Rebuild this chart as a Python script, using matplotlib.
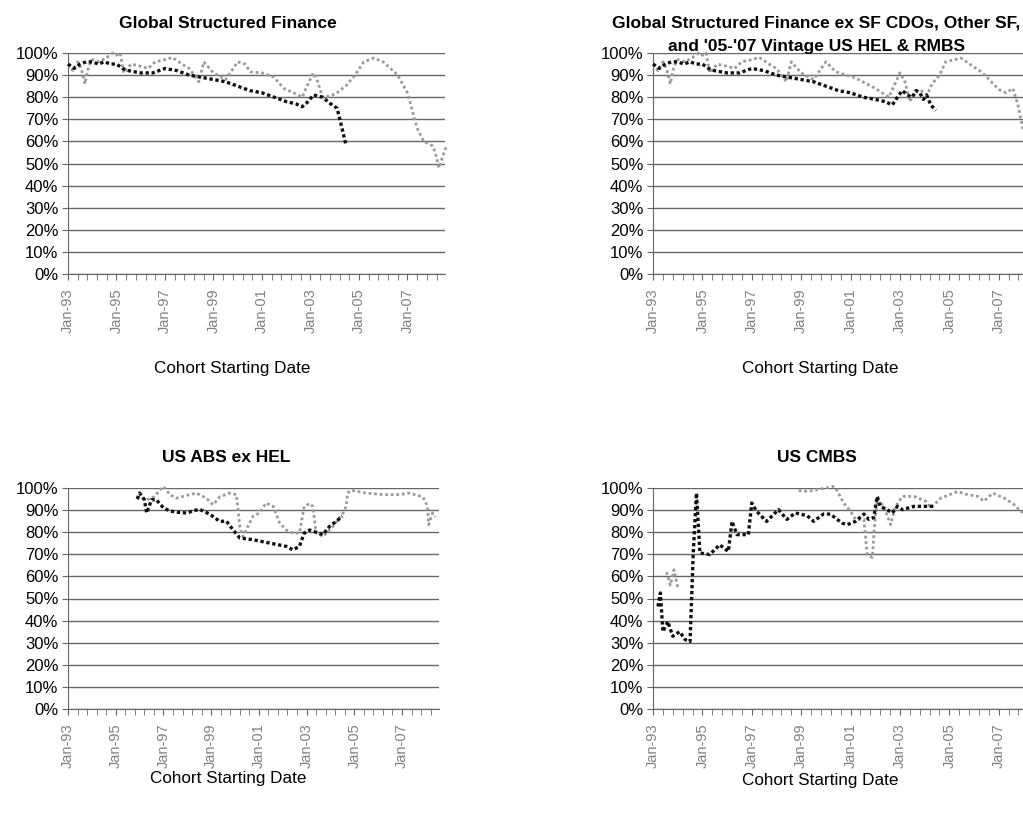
import numpy as np
import matplotlib
matplotlib.use("Agg")
import matplotlib.pyplot as plt
from matplotlib.ticker import FixedLocator, PercentFormatter

plt.rcParams['font.family'] = ['Liberation Sans', 'DejaVu Sans']

tick_years = [1993, 1995, 1997, 1999, 2001, 2003, 2005, 2007]
tick_labels = ['Jan-93', 'Jan-95', 'Jan-97', 'Jan-99', 'Jan-01', 'Jan-03', 'Jan-05', 'Jan-07']

titles = ['Global Structured Finance',
          "Global Structured Finance ex SF CDOs, Other SF,\nand '05-'07 Vintage US HEL & RMBS",
          'US ABS ex HEL',
          'US CMBS']
xlabel = 'Cohort Starting Date'

# --- Global Structured Finance
gsf_dark_x = [1993.0, 1993.25, 1993.5, 1993.75, 1994.0, 1994.25, 1994.5, 1994.75, 1995.0, 1995.25,
              1995.5, 1996.0, 1996.5, 1997.0, 1997.5, 1998.0, 1998.5, 1999.0, 1999.5, 2000.0,
              2000.5, 2001.0, 2001.5, 2002.0, 2002.4, 2002.66, 2002.9, 2003.12, 2003.5, 2003.83,
              2004.1, 2004.3, 2004.45]
gsf_dark_y = [95, 93, 95, 96, 96, 95, 96, 95, 95, 93,
              92, 91, 91, 93, 92, 90, 89, 88, 87, 85,
              83, 82, 80, 78, 77, 75.7, 78, 81, 80, 77,
              75, 66, 59]
gsf_light_x = [1993.0, 1993.2, 1993.4, 1993.55, 1993.7, 1993.85, 1994.0, 1994.3, 1994.6, 1994.85,
               1995.0, 1995.15, 1995.3, 1995.6, 1996.0, 1996.3, 1996.6, 1997.0, 1997.3, 1997.7,
               1998.0, 1998.4, 1998.6, 1999.0, 1999.5, 2000.0, 2000.3, 2000.52, 2001.0, 2001.5,
               2001.9, 2002.3, 2002.66, 2002.9, 2003.12, 2003.3, 2003.5, 2003.83, 2004.1, 2004.5,
               2004.93, 2005.2, 2005.6, 2006.0, 2006.6, 2007.0, 2007.4, 2007.67, 2008.03, 2008.15,
               2008.3, 2008.45, 2008.6]
gsf_light_y = [95, 92, 96, 93, 86, 94, 97, 96, 98, 100,
               99, 100, 91, 95, 94, 93, 96, 97, 98, 95,
               93, 87, 96, 91, 88, 96, 95, 91.5, 91, 89,
               84, 82, 80, 86, 91, 87, 80, 80.5, 82, 85.5,
               91.5, 96, 97.7, 96, 90, 82, 66, 60, 58, 55,
               48, 53, 57.6]

# --- Global SF ex SF CDOs, Other SF and '05-'07 US HEL & RMBS
exs_dark_x = [1993.0, 1993.25, 1993.5, 1993.75, 1994.0, 1994.25, 1994.5, 1994.75, 1995.0, 1995.25,
              1995.5, 1996.0, 1996.5, 1997.0, 1997.5, 1998.0, 1998.5, 1999.0, 1999.5, 2000.0,
              2000.5, 2001.0, 2001.5, 2002.0, 2002.4, 2002.69, 2002.96, 2003.1, 2003.3, 2003.5,
              2003.65, 2003.8, 2003.95, 2004.08, 2004.25, 2004.45]
exs_dark_y = [95, 93, 95, 96, 96, 95, 96, 95, 95, 93,
              92, 91, 91, 93, 92, 90, 89, 88, 87, 85,
              83, 82, 80, 79, 78, 76.5, 81, 83, 81, 80,
              83, 82, 79, 81, 76.5, 74]
exs_light_x = [1993.0, 1993.2, 1993.4, 1993.55, 1993.7, 1993.85, 1994.0, 1994.3, 1994.6, 1994.85,
               1995.0, 1995.15, 1995.3, 1995.6, 1996.0, 1996.3, 1996.6, 1997.0, 1997.3, 1997.7,
               1998.0, 1998.4, 1998.6, 1999.0, 1999.5, 2000.0, 2000.4, 2001.2, 2002.0, 2002.55,
               2003.0, 2003.2, 2003.4, 2003.65, 2003.9, 2004.1, 2004.3, 2004.6, 2004.85, 2005.47,
               2006.35, 2007.0, 2007.3, 2007.57, 2007.77, 2007.97, 2008.2, 2008.4, 2008.6]
exs_light_y = [95, 92, 96, 93, 86, 94, 97, 96, 98, 100,
               99, 100, 91, 95, 94, 93, 96, 97, 98, 95,
               93, 87, 96, 91, 88, 96, 91.5, 88.7, 84, 80,
               91, 87, 78, 83, 82.7, 81, 86, 90, 96, 97.7,
               91, 83.5, 82, 84, 77, 66, 60, 58, 60]

# --- US ABS ex HEL
abs_dark_x = [1995.9, 1996.0, 1996.2, 1996.3, 1996.5, 1996.7, 1997.0, 1997.27, 1997.6, 1997.97,
              1998.24, 1998.5, 1998.94, 1999.36, 1999.64, 1999.92, 2000.2, 2000.75, 2001.45, 2002.15,
              2002.43, 2002.7, 2002.9, 2003.13, 2003.4, 2003.68, 2003.96, 2004.24, 2004.5]
abs_dark_y = [95, 97.7, 94.7, 88.7, 94.7, 94.7, 91, 89.6, 89, 88.7,
              89.6, 90.4, 88.2, 84.9, 85, 81, 77.4, 76.6, 75.1, 73.6,
              72, 73.6, 79.6, 81, 80, 78.9, 82.6, 84.9, 87.2]
abs_light_x = [1995.9, 1996.0, 1996.3, 1996.6, 1997.0, 1997.27, 1997.55, 1998.1, 1998.38, 1998.8,
               1999.08, 1999.36, 1999.78, 2000.06, 2000.2, 2000.33, 2000.75, 2001.03, 2001.3, 2001.6,
               2001.87, 2002.15, 2002.43, 2002.7, 2002.9, 2003.13, 2003.26, 2003.4, 2003.55, 2003.68,
               2004.1, 2004.5, 2004.66, 2004.72, 2004.86, 2005.5, 2006.2, 2006.9, 2007.3, 2007.87,
               2008.07, 2008.12, 2008.28, 2008.4]
abs_light_y = [95, 96, 94.7, 96, 100.7, 97, 95.4, 97, 97.7, 95.4,
               92.4, 96, 97.7, 97, 82.6, 78, 87.2, 88.7, 93.2, 91.7,
               84.2, 81, 79.6, 79.6, 91.7, 93, 91.7, 79.6, 79, 78,
               82.6, 88, 91.7, 97.7, 99, 97.7, 97, 97, 97.7, 96,
               91.7, 83.4, 88.7, 87]

# --- US CMBS
cmbs_dark_x = [1993.2, 1993.3, 1993.4, 1993.6, 1993.8, 1994.08, 1994.3, 1994.5, 1994.63, 1994.76,
               1994.9, 1995.3, 1995.7, 1996.05, 1996.2, 1996.4, 1996.86, 1997.0, 1997.2, 1997.6,
               1998.08, 1998.42, 1998.76, 1999.24, 1999.5, 1999.9, 2000.18, 2000.66, 2000.86, 2001.2,
               2001.54, 2001.74, 2001.94, 2002.08, 2002.2, 2002.48, 2002.69, 2002.9, 2003.1, 2003.57,
               2003.98, 2004.38]
cmbs_dark_y = [46.4, 52.5, 35, 39.6, 32.9, 35, 31.4, 30.5, 70.6, 97.7,
               70.6, 69.9, 74.3, 71.3, 84.9, 78.9, 78.9, 93.2, 89.4, 84.9,
               90.2, 85.8, 88.7, 87.5, 84.9, 88.2, 88.2, 84.1, 83.4, 84.9,
               88.2, 85.8, 86.6, 96.2, 91.7, 90.2, 88.7, 91.7, 90.2, 91.7,
               91.7, 91.7]
# NaN marks the gap in the light CMBS series before its 1998 segment
cmbs_light_x = [1993.55, 1993.7, 1993.85, 1994.0, 1998.5, 1998.9, 1999.3, 2000.3, 2000.4, 2000.72,
                2001.0, 2001.2, 2001.54, 2001.67, 2001.88, 2001.98, 2002.08, 2002.35, 2002.62, 2002.82,
                2003.1, 2003.57, 2004.05, 2004.25, 2004.65, 2005.33, 2005.74, 2006.15, 2006.4, 2006.76,
                2007.23, 2007.63, 2007.9, 2008.2, 2008.5]
cmbs_light_y = [62, 56, 63, 55, np.nan, 98.8, 98.5, 100.7, 100, 93.2,
                89.4, 85.8, 85.8, 70, 68.5, 84, 95, 91.7, 83.4, 91.7,
                96.2, 96.2, 94, 91, 95.4, 98.4, 97, 96.2, 94, 97.7,
                95.4, 92.4, 89.4, 88, 86]

panels = [
    (gsf_dark_x, gsf_dark_y, gsf_light_x, gsf_light_y),
    (exs_dark_x, exs_dark_y, exs_light_x, exs_light_y),
    (abs_dark_x, abs_dark_y, abs_light_x, abs_light_y),
    (cmbs_dark_x, cmbs_dark_y, cmbs_light_x, cmbs_light_y),
]

W, H = 1023, 815
fig = plt.figure(figsize=(W / 100, H / 100), dpi=100)

# axes boxes in pixels: left, top, right, bottom
boxes = [(68, 53, 445, 274), (653, 53, 1037, 274), (68, 488, 439, 709), (653, 488, 1037, 709)]
title_pos = [(228, 23), (816, 23), (226, 458), (817, 458)]
label_pos = [(232, 368), (820, 368), (228, 778), (820, 780)]

for i, (dx, dy, lx, ly) in enumerate(panels):
    l, t, r, b = boxes[i]
    ax = fig.add_axes([l / W, 1 - b / H, (r - l) / W, (b - t) / H])
    ax.plot(lx, np.array(ly, dtype=float) / 100, color='#9a9a9a', lw=2.0,
            linestyle=(0, (1, 1)), clip_on=False, zorder=3)
    ax.plot(dx, np.array(dy) / 100, color='#111111', lw=2.4,
            linestyle=(0, (1, 0.8)), clip_on=False, zorder=4)
    ax.set_xlim(1993, 2008.55)
    ax.set_ylim(0, 1.0)
    ax.yaxis.set_major_locator(FixedLocator(np.arange(0, 1.01, 0.1)))
    ax.yaxis.set_major_formatter(PercentFormatter(1.0, decimals=0))
    ax.set_xticks(tick_years)
    ax.set_xticklabels(tick_labels, rotation=90, color='#808080', fontsize=10.5)
    ax.xaxis.set_minor_locator(FixedLocator(np.arange(1993, 2008.6, 0.4)))
    ax.tick_params(axis='y', labelsize=12, length=4, color='#666666', pad=3)
    ax.tick_params(axis='x', which='both', length=4, color='#666666', direction='out', pad=6)
    ax.grid(axis='y', color='#666666', lw=1)
    ax.set_axisbelow(True)
    for s in ['top', 'right']:
        ax.spines[s].set_visible(False)
    for s in ['left', 'bottom']:
        ax.spines[s].set_color('#666666')

    # title lines drawn one by one so the second line can sit on the top gridline
    tx, ty = title_pos[i]
    for k, line in enumerate(titles[i].split('\n')):
        fig.text(tx / W, 1 - (ty + 24 * k) / H, line, ha='center', va='center',
                 fontsize=12.5, fontweight='bold')
    lx_, ly_ = label_pos[i]
    fig.text(lx_ / W, 1 - ly_ / H, xlabel, ha='center', va='center', fontsize=12.3)

fig.savefig('out.png', dpi=100)
